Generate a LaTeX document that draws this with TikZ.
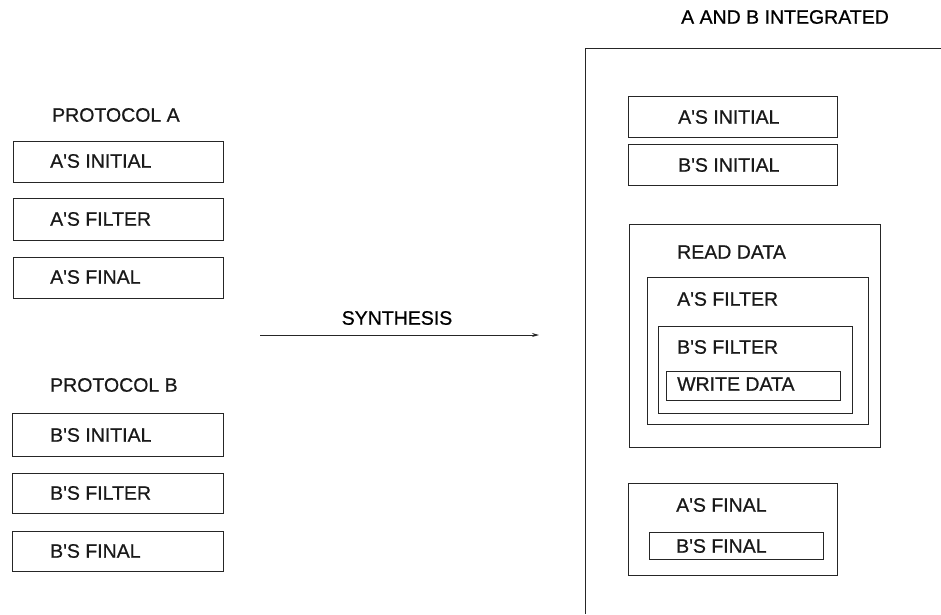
\documentclass[tikz,border=0pt]{standalone}
\usepackage{fontspec}
\setmainfont{Liberation Sans}[FakeBold=0.7]
\usetikzlibrary{arrows.meta}
\newcommand{\apos}{\textquotesingle}
\tikzset{
  box/.style={draw=black!85, line width=0.9pt, rectangle, inner sep=0pt},
  lbl/.style={font=\fontsize{19.5}{22}\selectfont, inner sep=0pt, anchor=west, text=black!90},
}
% box from pixel corners: #1 name, (x1,y1) top-left, (x2,y2) bottom-right
\newcommand{\pbox}[5]{%
  \node[box, minimum width={(#4-#2)*1pt}, minimum height={(#5-#3)*1pt}]
    (#1) at ({(#2+#4)/2},{(#3+#5)/2}) {};}
\begin{document}
\begin{tikzpicture}[x=1pt,y=-1pt]
  \useasboundingbox (0,0) rectangle (941,614);

  % Protocol A
  \node[lbl] (pa) at (52,115) {PROTOCOL A};
  \pbox{ai}{13}{141}{223}{182}
  \pbox{af}{13}{198}{223}{240}
  \pbox{afn}{13}{257}{223}{298}
  \node[lbl] (ait) at (50,161) {A\apos S INITIAL};
  \node[lbl] (aft) at (50,219) {A\apos S FILTER};
  \node[lbl] (afnt) at (50,277) {A\apos S FINAL};

  % Protocol B
  \node[lbl] (pb) at (50,385) {PROTOCOL B};
  \pbox{bi}{12}{413}{223}{456}
  \pbox{bf}{12}{473}{223}{513}
  \pbox{bfn}{12}{531}{223}{571}
  \node[lbl] (bit) at (50,435) {B\apos S INITIAL};
  \node[lbl] (bft) at (50,493) {B\apos S FILTER};
  \node[lbl] (bfnt) at (50,551) {B\apos S FINAL};

  % Synthesis arrow
  \coordinate (s1) at (260,335);
  \coordinate (s2) at (539,335);
  \draw[line width=0.9pt, draw=black!85, -{Stealth[length=7pt,width=4pt]}] (s1) -- (s2);
  \node[font=\fontsize{19.5}{22}\selectfont, inner sep=0pt] (syn) at (397,318) {SYNTHESIS};

  % Integrated protocol
  \node[font=\fontsize{19.5}{22}\selectfont, inner sep=0pt] (ti) at (785,17) {A AND B INTEGRATED};
  \coordinate (o1) at (941,48);
  \coordinate (o2) at (585,48);
  \coordinate (o3) at (585,614);
  \draw[line width=0.9pt, draw=black!85] (o1) -- (o2) -- (o3);

  \pbox{iai}{628}{96}{837}{137}
  \pbox{ibi}{628}{144}{837}{185}
  \node[lbl] (iait) at (678,117) {A\apos S INITIAL};
  \node[lbl] (ibit) at (678,165) {B\apos S INITIAL};

  \pbox{rd}{629}{224}{880}{447}
  \pbox{iaf}{647}{277}{868}{424}
  \pbox{ibf}{658}{326}{852}{413}
  \pbox{wd}{666}{371}{840}{400}
  \node[lbl] (rdt) at (677,252) {READ DATA};
  \node[lbl] (iaft) at (677,299) {A\apos S FILTER};
  \node[lbl] (ibft) at (677,347) {B\apos S FILTER};
  \node[lbl] (wdt) at (677,384) {WRITE DATA};

  \pbox{iafn}{628}{483}{837}{575}
  \pbox{ibfn}{649}{532}{823}{559}
  \node[lbl] (iafnt) at (676,505) {A\apos S FINAL};
  \node[lbl] (ibfnt) at (676,546) {B\apos S FINAL};
\end{tikzpicture}
\end{document}
